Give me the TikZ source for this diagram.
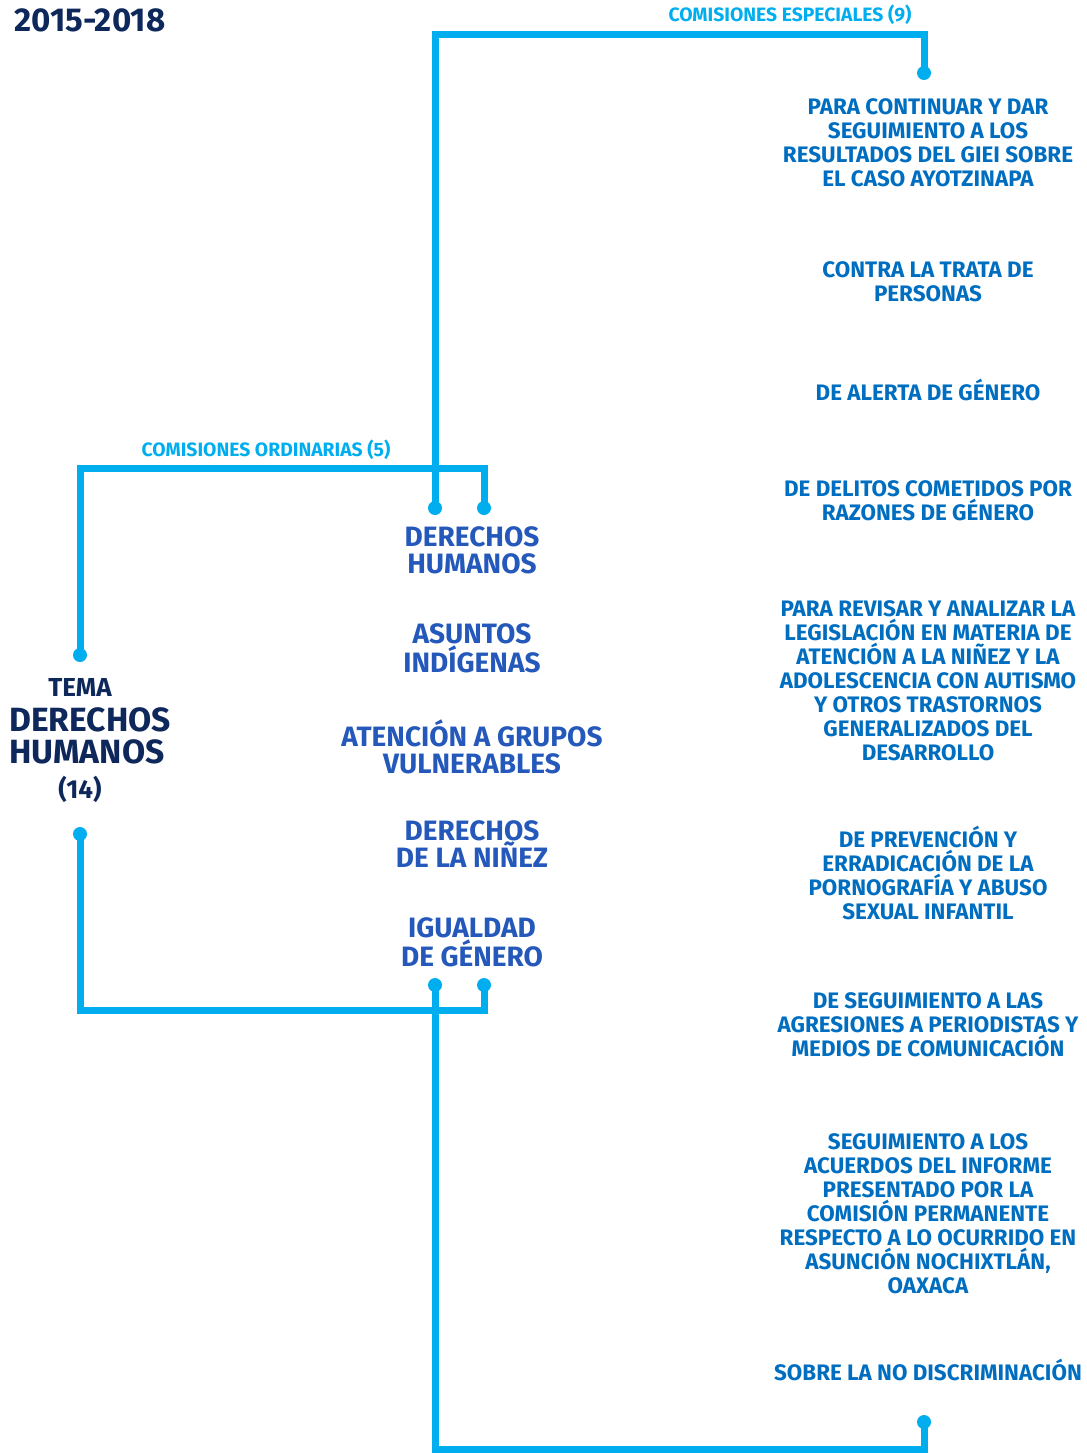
\documentclass[tikz,border=0pt]{standalone}
\usepackage{fontspec}
\setmainfont{Fira Sans}
\usetikzlibrary{positioning}
\usepackage{xcolor}
\definecolor{linecyan}{RGB}{0,174,239}
\definecolor{midblue}{RGB}{36,88,186}
\definecolor{sideblue}{RGB}{0,110,192}
\definecolor{navy}{RGB}{14,40,92}

\begin{document}
\begin{tikzpicture}[
            x = 0.75pt, y = -0.75pt,
            node distance = 73.5pt,
            link/.style = {draw = linecyan, line width = 5.25pt},
            dotpin/.style = {circle, fill = linecyan, inner sep = 0, minimum size = 10.5pt},
            bracketlabel/.style = {text = linecyan, font = \bfseries\fontsize{14.5}{16}\selectfont, inner sep = 0},
            comision/.style = {
                text = midblue,
                align = center,
                inner sep = 0,
                font = \bfseries\fontsize{21}{20.25}\selectfont
            },
            especial/.style = {
                text = sideblue,
                align = center,
                inner sep = 0,
                font = \bfseries\fontsize{16.8}{18}\selectfont
            }
        ]
        \useasboundingbox (0,0) rectangle (1086,1453);

        \node[text = navy, font = \bfseries\fontsize{24.8}{28}\selectfont, anchor = west, inner sep = 0] (periodo) at (14,20) {2015-2018};

        % tema
        \node[text = navy, font = \bfseries\fontsize{19.5}{22}\selectfont, inner sep = 0] (tema) at (80,687) {TEMA};
        \node[text = navy, align = left, anchor = west, inner sep = 0, font = \bfseries\fontsize{25.2}{24}\selectfont] (temaDH) at (9,736) {DERECHOS\\HUMANOS};
        \node[text = navy, font = \bfseries\fontsize{19.5}{22}\selectfont, inner sep = 0] (temaNum) at (80,789) {(14)};

        % ordinarias
        \node[comision] (derechos) at (472,550.5) {DERECHOS\\HUMANOS};
        \node[comision, below of=derechos] (indigenas) {ASUNTOS\\INDÍGENAS};
        \node[comision, below of=indigenas] (vulnerables) {ATENCIÓN A GRUPOS\\VULNERABLES};
        \node[comision, below of=vulnerables] (ninez) {DERECHOS\\DE LA NIÑEZ};
        \node[comision, below of=ninez] (igualdad) {IGUALDAD\\DE GÉNERO};

        % especiales
        \node[especial] (giei) at (928,143) {PARA CONTINUAR Y DAR\\SEGUIMIENTO A LOS\\RESULTADOS DEL GIEI SOBRE\\EL CASO AYOTZINAPA};
        \node[especial] (trata) at (928,282) {CONTRA LA TRATA DE\\PERSONAS};
        \node[especial] (alerta) at (928,390) {DE ALERTA DE GÉNERO};
        \node[especial] (delitos) at (928,501) {DE DELITOS COMETIDOS POR\\RAZONES DE GÉNERO};
        \node[especial] (autismo) at (928,681) {PARA REVISAR Y ANALIZAR LA\\LEGISLACIÓN EN MATERIA DE\\ATENCIÓN A LA NIÑEZ Y LA\\ADOLESCENCIA CON AUTISMO\\Y OTROS TRASTORNOS\\GENERALIZADOS DEL\\DESARROLLO};
        \node[especial] (pornografia) at (928,873) {DE PREVENCIÓN Y\\ERRADICACIÓN DE LA\\PORNOGRAFÍA Y ABUSO\\SEXUAL INFANTIL};
        \node[especial] (periodistas) at (928,1025) {DE SEGUIMIENTO A LAS\\AGRESIONES A PERIODISTAS Y\\MEDIOS DE COMUNICACIÓN};
        \node[especial] (nochixtlan) at (928,1214) {SEGUIMIENTO A LOS\\ACUERDOS DEL INFORME\\PRESENTADO POR LA\\COMISIÓN PERMANENTE\\RESPECTO A LO OCURRIDO EN\\ASUNCIÓN NOCHIXTLÁN,\\OAXACA};
        \node[especial] (discriminacion) at (928,1370) {SOBRE LA NO DISCRIMINACIÓN};

        % pins
        \node[dotpin] (pinTemaA) at (80,655) {};
        \node[dotpin] (pinTemaB) at (80,834) {};
        \node[dotpin] (pinDerA) at (435,508) {};
        \node[dotpin] (pinDerB) at (484,508) {};
        \node[dotpin] (pinIgA) at (435,985) {};
        \node[dotpin] (pinIgB) at (484,985) {};
        \node[dotpin] (pinEspA) at (924,73) {};
        \node[dotpin] (pinEspB) at (924,1422) {};

        \coordinate (ordTop) at (266,468);
        \coordinate (ordBot) at (266,1010);
        \coordinate (espTop) at (680,34);
        \coordinate (espBot) at (680,1449);

        \draw[link] (pinTemaA.center) |- (ordTop) -| (pinDerB.center);
        \draw[link] (pinTemaB.center) |- (ordBot) -| (pinIgB.center);
        \draw[link] (pinDerA.center) |- (espTop) -| (pinEspA.center);
        \draw[link] (pinIgA.center) |- (espBot) -| (pinEspB.center);

        \node[bracketlabel, above=6pt of ordTop] (ordinarias) {COMISIONES ORDINARIAS (5)};
        \node[bracketlabel] (especiales) at (790,15) {COMISIONES ESPECIALES (9)};
    \end{tikzpicture}
\end{document}
